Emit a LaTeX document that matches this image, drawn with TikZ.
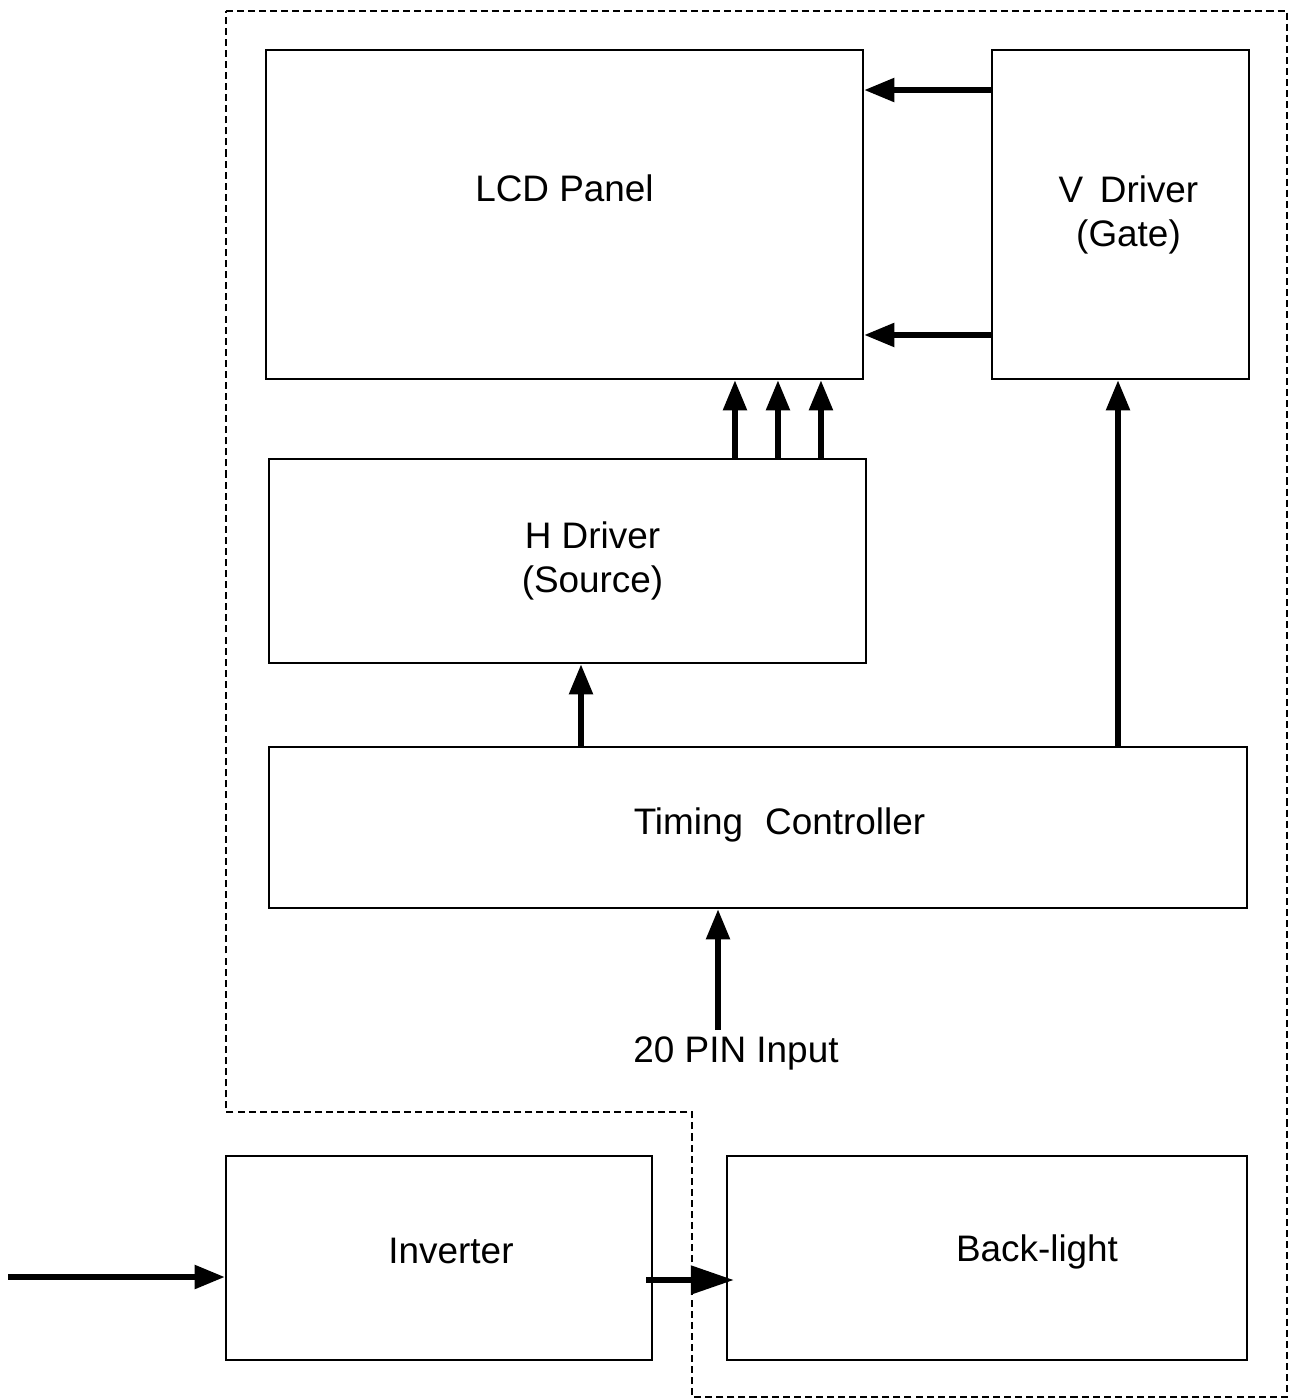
\documentclass[tikz,border=0pt]{standalone}
\usepackage{fontspec}
\setmainfont{Liberation Sans}
\usetikzlibrary{arrows.meta}

\begin{document}
\begin{tikzpicture}[x=0.02cm, y=-0.02cm,
    blk/.style={draw, line width=1.5pt, inner sep=0pt},
    txt/.style={font=\fontsize{21}{25}\selectfont, align=center},
    arr/.style={-{Triangle[length=0.6cm, width=0.46cm]}, line width=3pt},
    bigarr/.style={-{Triangle[length=0.86cm, width=0.56cm]}, line width=3pt},
    border/.style={line width=0.9pt, dash pattern=on 4pt off 2.3pt}
  ]
  \useasboundingbox (0,0) rectangle (1290,1399);

  % ---------------- module outline ----------------
  \draw[border] (226,11) -- (1287,11) -- (1287,1397) -- (692,1397)
    -- (692,1112) -- (226,1112) -- cycle;

  % ---------------- blocks ----------------
  \node[blk, minimum width=11.94cm, minimum height=6.58cm] (lcd) at (564.5,214.5) {};
  \node[txt] (lcdname) at ([yshift=0.53cm]lcd.center) {LCD Panel};
  \node[blk, minimum width=5.14cm, minimum height=6.58cm] (vd) at (1120.5,214.5) {};
  \node[txt] (vdname) at ([xshift=0.16cm]vd.center) {V\hspace{0.45em}Driver\\(Gate)};
  \node[blk, minimum width=11.94cm, minimum height=4.08cm] (hd) at (567.5,561) {};
  \node[txt] (hdname) at ([xshift=0.5cm]hd.center) {H Driver\\(Source)};
  \node[blk, minimum width=19.56cm, minimum height=3.22cm] (tc) at (758,827.5) {};
  \node[txt] (tcname) at ([xshift=0.43cm,yshift=0.06cm]tc.center) {Timing\hspace{0.6em}Controller};
  \node[txt] (pin) at (736,1053) {20 PIN Input};
  \node[blk, minimum width=8.52cm, minimum height=4.08cm] (inv) at (439,1258) {};
  \node[txt] (invname) at ([xshift=0.24cm,yshift=0.14cm]inv.center) {Inverter};
  \node[blk, minimum width=10.4cm, minimum height=4.08cm] (bl) at (987,1258) {};
  \node[txt] (blname) at ([xshift=1cm,yshift=0.12cm]bl.center) {Back-light};
  \coordinate (in) at (8,1277);

  % ---------------- signals ----------------
  \draw[arr] ([yshift=2.49cm]vd.west) -- ([yshift=2.49cm]lcd.east);
  \draw[arr] ([yshift=-2.41cm]vd.west) -- ([yshift=-2.41cm]lcd.east);
  \foreach \dx in {3.35,4.21,5.07}
    \draw[arr] ([xshift=\dx cm]hd.north) -- ([xshift=\dx cm]hd.north |- lcd.south);
  \draw[arr] ([xshift=0.27cm]hd.south |- tc.north) -- ([xshift=0.27cm]hd.south);
  \draw[arr] ([xshift=-0.05cm]vd.south |- tc.north) -- ([xshift=-0.05cm]vd.south);
  \draw[arr] ([xshift=-0.8cm]tc.south |- pin.north) -- ([xshift=-0.8cm]tc.south);
  \draw[arr] (in) -- (inv.west |- in);
  \draw[bigarr] ([xshift=-0.14cm,yshift=-0.44cm]inv.east) -- ([xshift=0.16cm,yshift=-0.44cm]bl.west);
\end{tikzpicture}
\end{document}
